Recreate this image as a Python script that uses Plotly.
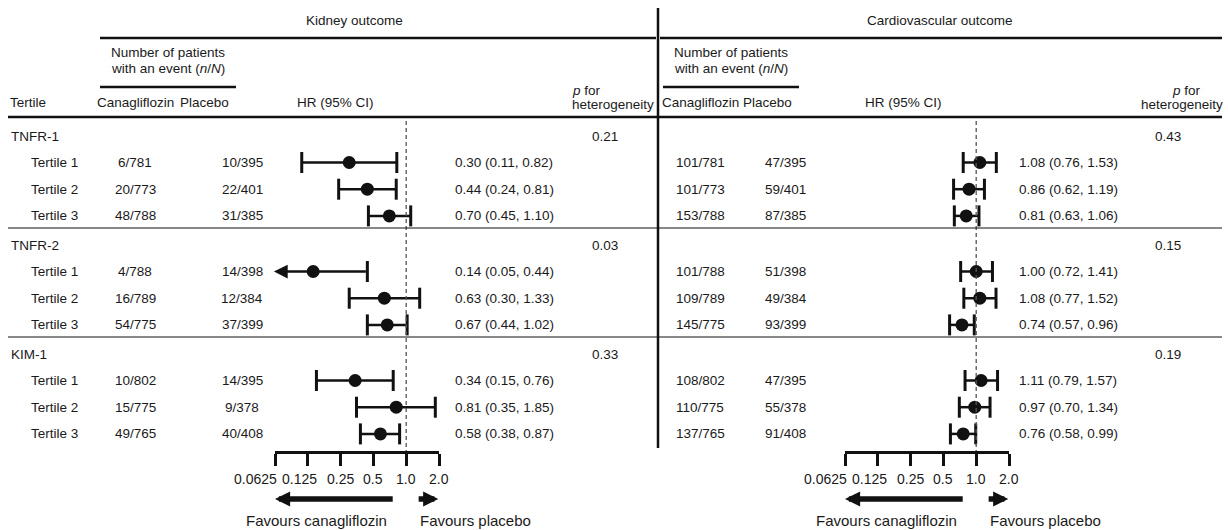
import numpy as np
import plotly.graph_objects as go

W, H = 1228, 530

# ---------------- data ----------------
biomarkers = ["TNFR-1", "TNFR-2", "KIM-1"]
tertiles = ["Tertile 1", "Tertile 2", "Tertile 3"]

kid_cana = [["6/781", "20/773", "48/788"], ["4/788", "16/789", "54/775"], ["10/802", "15/775", "49/765"]]
kid_plac = [["10/395", "22/401", "31/385"], ["14/398", "12/384", "37/399"], ["14/395", "9/378", "40/408"]]
kid_hr = [[0.30, 0.44, 0.70], [0.14, 0.63, 0.67], [0.34, 0.81, 0.58]]
kid_lo = [[0.11, 0.24, 0.45], [0.05, 0.30, 0.44], [0.15, 0.35, 0.38]]
kid_hi = [[0.82, 0.81, 1.10], [0.44, 1.33, 1.02], [0.76, 1.85, 0.87]]
kid_p = ["0.21", "0.03", "0.33"]

cv_cana = [["101/781", "101/773", "153/788"], ["101/788", "109/789", "145/775"], ["108/802", "110/775", "137/765"]]
cv_plac = [["47/395", "59/401", "87/385"], ["51/398", "49/384", "93/399"], ["47/395", "55/378", "91/408"]]
cv_hr = [[1.08, 0.86, 0.81], [1.00, 1.08, 0.74], [1.11, 0.97, 0.76]]
cv_lo = [[0.76, 0.62, 0.63], [0.72, 0.77, 0.57], [0.79, 0.70, 0.58]]
cv_hi = [[1.53, 1.19, 1.06], [1.41, 1.52, 0.96], [1.57, 1.34, 0.99]]
cv_p = ["0.43", "0.15", "0.19"]

tick_vals = [0.0625, 0.125, 0.25, 0.5, 1.0, 2.0]
tick_text = ["0.0625", "0.125", "0.25", "0.5", "1.0", "2.0"]

# ---------------- layout helpers ----------------
FONT = "Liberation Sans, Arial, Helvetica, sans-serif"
TXT = "#1a1a1a"
INK = "#111111"
FS = 13.5


def px(x):
    return x / W


def heading_y(g):
    return 136.5 + 109 * g


def row_y(g, r):
    return heading_y(g) + 26 + 26.7 * r


AX_Y = 452  # pixel row of the HR axis line
AX_MIN, AX_MAX = tick_vals[0], tick_vals[-1]

annotations = []
shapes = []


def text(x, y, s, anchor="left", size=FS):
    annotations.append(dict(x=px(x), y=y, xref="paper", yref="y", text=s, showarrow=False,
                            xanchor=anchor, yanchor="middle",
                            font=dict(family=FONT, size=size, color=TXT)))


def hline(x0, x1, y, w):
    shapes.append(dict(type="line", xref="paper", yref="y", x0=px(x0), x1=px(x1), y0=y, y1=y,
                       line=dict(color=INK, width=w)))


fig = go.Figure()

panels = [
    dict(xa="x", cana=kid_cana, plac=kid_plac, hr=kid_hr, lo=kid_lo, hi=kid_hi, p=kid_p,
         title="Kidney outcome", title_x=354, nb=168, c_x=135, pl_h=204, pl_x=242,
         hr_h=335, hr_x=453, p_x=620, pfor=586, het=656, fav_l=316, fav_r=418),
    dict(xa="x2", cana=cv_cana, plac=cv_plac, hr=cv_hr, lo=cv_lo, hi=cv_hi, p=cv_p,
         title="Cardiovascular outcome", title_x=940, nb=731, c_x=700, pl_h=767, pl_x=786,
         hr_h=903, hr_x=1017, p_x=1183, pfor=1186, het=1225, fav_l=886, fav_r=988),
]

for pi, P in enumerate(panels):
    xa = P["xa"]
    # headers
    text(P["title_x"], 20, P["title"], "center")
    text(P["nb"], 52, "Number of patients", "center")
    text(P["nb"], 68, "with an event (<i>n</i>/<i>N</i>)", "center")
    text(P["c_x"], 102, "Canagliflozin", "center")
    text(P["pl_h"], 102, "Placebo", "center")
    text(P["hr_h"], 102, "HR (95% CI)", "center")
    text(P["pfor"], 90, "<i>p</i> for", "center")
    text(P["het"], 104, "heterogeneity", "right")
    hline(P["nb"] - 68, P["nb"] + 68, 87, 2.5)

    xs, ys, cx, cy = [], [], [], []
    for g in range(3):
        text(P["p_x"], heading_y(g), P["p"][g], "right")
        for r in range(3):
            y = row_y(g, r)
            text(P["c_x"], y, P["cana"][g][r], "center")
            text(P["pl_x"], y, P["plac"][g][r], "center")
            text(P["hr_x"], y, f"{P['hr'][g][r]:.2f} ({P['lo'][g][r]:.2f}, {P['hi'][g][r]:.2f})")
            lo, hi, hr = P["lo"][g][r], P["hi"][g][r], P["hr"][g][r]
            if lo < AX_MIN:
                # truncated interval: arrow towards the axis minimum
                annotations.append(dict(x=np.log10(AX_MIN) - 0.01, y=y, ax=np.log10(hi), ay=y,
                                        xref=xa, yref="y", axref=xa, ayref="y", text="",
                                        showarrow=True, arrowhead=2, arrowsize=1.1,
                                        arrowwidth=2.5, arrowcolor=INK, standoff=0))
                cx += [hi]
                cy += [y]
            else:
                xs += [lo, hi, None]
                ys += [y, y, None]
                cx += [lo, hi]
                cy += [y, y]
    # CI lines
    fig.add_trace(go.Scatter(x=xs, y=ys, mode="lines", xaxis=xa, yaxis="y",
                             line=dict(color=INK, width=2.5), cliponaxis=False,
                             hoverinfo="skip", showlegend=False))
    # caps
    fig.add_trace(go.Scatter(x=cx, y=cy, mode="markers", xaxis=xa, yaxis="y",
                             marker=dict(symbol="line-ns", size=15, line=dict(color=INK, width=3)),
                             cliponaxis=False, hoverinfo="skip", showlegend=False))
    # point estimates
    fig.add_trace(go.Scatter(x=[v for row in P["hr"] for v in row],
                             y=[row_y(g, r) for g in range(3) for r in range(3)],
                             mode="markers", xaxis=xa, yaxis="y",
                             marker=dict(symbol="circle", size=13, color=INK),
                             cliponaxis=False, hoverinfo="skip", showlegend=False))
    # reference line at HR = 1
    fig.add_trace(go.Scatter(x=[1, 1], y=[121, AX_Y], mode="lines", xaxis=xa, yaxis="y",
                             line=dict(color="#555555", width=1.3, dash="4px,3px"),
                             cliponaxis=False, hoverinfo="skip", showlegend=False))
    # tick labels
    shifts = [-20, -8, 0, 0, 0, 0]
    for v, t, s in zip(tick_vals, tick_text, shifts):
        annotations.append(dict(x=np.log10(v), y=479, xref=xa, yref="y", text=t, showarrow=False,
                                xanchor="center", yanchor="middle", xshift=s,
                                font=dict(family=FONT, size=14, color=TXT)))
    # favours arrows
    for head, tail in [(AX_MIN, 0.776), (1.97, 1.26)]:
        annotations.append(dict(x=np.log10(head), y=499, ax=np.log10(tail), ay=499,
                                xref=xa, yref="y", axref=xa, ayref="y", text="",
                                showarrow=True, arrowhead=2, arrowsize=0.55,
                                arrowwidth=5.5, arrowcolor=INK, standoff=0))
    text(P["fav_l"], 520, "Favours canagliflozin", "center", 15)
    text(P["fav_r"], 520, "Favours placebo", "left", 15)

# left-hand row labels
text(8, 102, "Tertile")
for g in range(3):
    text(9, heading_y(g), biomarkers[g])
    for r in range(3):
        text(29, row_y(g, r), tertiles[r])

# rules
hline(100, 656, 38, 2.5)
hline(660, 1222, 38, 2.5)
hline(8, 1222, 117, 2.5)
hline(8, 1222, 228, 1)
hline(8, 1222, 337, 1)
shapes.append(dict(type="line", xref="paper", yref="y", x0=px(658), x1=px(658), y0=8, y1=448,
                   line=dict(color=INK, width=2.5)))

axis_common = dict(type="log", range=[np.log10(AX_MIN), np.log10(AX_MAX)],
                   anchor="free", position=1 - AX_Y / H,
                   showline=True, linewidth=2.5, linecolor=INK,
                   ticks="outside", ticklen=12, tickwidth=2.5, tickcolor=INK,
                   tickvals=tick_vals, showticklabels=False,
                   showgrid=False, zeroline=False, fixedrange=True)

fig.update_layout(
    width=W, height=H,
    margin=dict(l=0, r=0, t=0, b=0),
    paper_bgcolor="white", plot_bgcolor="rgba(0,0,0,0)",
    xaxis=dict(domain=[px(275), px(439)], **axis_common),
    xaxis2=dict(domain=[px(845), px(1009)], **axis_common),
    yaxis=dict(domain=[0, 1], range=[H, 0], visible=False, fixedrange=True),
    annotations=annotations,
    shapes=shapes,
    showlegend=False,
)

fig.write_html("out.html", config={"displayModeBar": False},
               post_script="document.body.style.margin='0';document.body.style.overflow='hidden';")
